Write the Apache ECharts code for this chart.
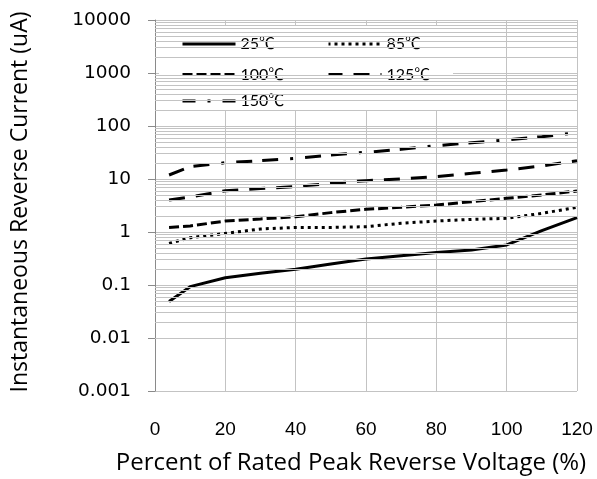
<!DOCTYPE html>
<html>
<head>
<meta charset="utf-8">
<script src="https://cdn.jsdelivr.net/npm/echarts@6/dist/echarts.min.js"></script>
<style>
  html, body { margin: 0; padding: 0; background: #fff; }
  #chart { width: 597px; height: 479px; }
</style>
</head>
<body>
<div id="chart"></div>
<script>
// ---- data ----
const xPercent = [4, 10, 20, 30, 40, 50, 60, 70, 80, 90, 100, 110, 120];
const seriesNames = ['25℃', '85℃', '100℃', '125℃', '150℃'];
const current25 = [0.049, 0.093, 0.137, 0.166, 0.198, 0.249, 0.31, 0.357, 0.41, 0.457, 0.569, 1.06, 1.86];
const current85 = [0.61, 0.78, 0.94, 1.14, 1.22, 1.22, 1.26, 1.46, 1.61, 1.73, 1.81, 2.25, 2.92];
const current100 = [1.22, 1.30, 1.61, 1.76, 1.94, 2.32, 2.68, 2.92, 3.23, 3.73, 4.32, 4.99, 5.94];
const current125 = [4.0, 4.6, 6.0, 6.6, 7.2, 8.3, 9.3, 10.0, 11.1, 12.8, 14.8, 17.6, 22.2];
const current150 = [11.9, 17.1, 20.3, 22.2, 24.6, 28.4, 31.9, 36.3, 42.5, 48.5, 54.4, 62.9, 74.8];
const xTickLabels = ['0', '20', '40', '60', '80', '100', '120'];
const yTickLabels = ['0.001', '0.01', '0.1', '1', '10', '100', '1000', '10000'];
const decades = [0.001, 0.01, 0.1, 1, 10, 100, 1000];
const minorMultipliers = [2, 3, 4, 5, 6, 7, 8, 9];

const minorGridValues = [];
decades.forEach(d => minorMultipliers.forEach(m => minorGridValues.push(+(d * m).toPrecision(3))));

const pairs = vals => xPercent.map((x, i) => [x, vals[i]]);
const gridColor = '#c3c3c3';
const lineCommon = {
  type: 'line', symbol: 'none', showSymbol: false, animation: false, z: 2, silent: true,
  itemStyle: { color: '#000' }, emphasis: { disabled: true }
};

const chart = echarts.init(document.getElementById('chart'), null, { renderer: 'canvas' });
const legendText = { fontFamily: "Lato, 'Noto Sans CJK SC', sans-serif", fontSize: 16, color: '#000' };
const legendCommon = {
  orient: 'vertical', itemWidth: 53, itemHeight: 14, itemGap: 14.5, padding: 0,
  textStyle: legendText, selectedMode: false, z: 5,
  itemStyle: { opacity: 0 },
  lineStyle: { width: 3, cap: 'butt' }
};

chart.setOption({
  backgroundColor: '#fff',
  animation: false,
  grid: { left: 155, right: 20, top: 20, bottom: 88 },
  xAxis: {
    type: 'value', min: 0, max: 120, interval: 20,
    axisLine: { show: false },
    axisTick: { show: false },
    axisLabel: {
      margin: 29, color: '#000', fontFamily: 'Liberation Sans', fontSize: 19,
      formatter: v => xTickLabels[Math.round(v / 20)]
    },
    splitLine: { show: true, lineStyle: { color: gridColor, width: 1 } }
  },
  yAxis: {
    type: 'log', logBase: 10, min: 0.001, max: 10000,
    axisLine: { show: true, lineStyle: { color: '#8a8a8a', width: 1 } },
    axisTick: { show: true, inside: false, length: 7, lineStyle: { color: '#8a8a8a' } },
    axisLabel: {
      margin: 24, color: '#000', fontFamily: 'DejaVu Sans', fontSize: 18.5,
      formatter: v => yTickLabels[Math.round(Math.log10(v)) + 3]
    },
    splitLine: { show: true, lineStyle: { color: gridColor, width: 1 } }
  },
  legend: [
    Object.assign({}, legendCommon, { data: ['25℃', '100℃'], left: 181, top: 36 }),
    Object.assign({}, legendCommon, { data: ['150℃'], left: 181, top: 93, lineStyle: { width: 3, cap: 'butt', dashOffset: 29 } }),
    Object.assign({}, legendCommon, { data: ['85℃', '125℃'], left: 327, top: 36 })
  ],
  graphic: [
    { type: 'rect', left: 159, top: 25, z: 3, shape: { width: 294, height: 85 }, style: { fill: '#fff' } },
    {
      type: 'text', x: 20, y: 202, rotation: Math.PI / 2, z: 5,
      style: { text: 'Instantaneous Reverse Current (uA)', font: "23px 'Open Sans'", fill: '#000', align: 'center', verticalAlign: 'middle' }
    },
    {
      type: 'text', x: 351, y: 463, z: 5,
      style: { text: 'Percent of Rated Peak Reverse Voltage (%)', font: "24px 'Open Sans'", fill: '#000', align: 'center', verticalAlign: 'middle' }
    }
  ],
  series: [
    {
      name: 'minorGrid', type: 'line', data: [], symbol: 'none', z: 1, silent: true, animation: false,
      markLine: {
        silent: true, symbol: 'none', animation: false, label: { show: false },
        lineStyle: { color: gridColor, width: 1, type: 'solid' },
        data: minorGridValues.map(v => ({ yAxis: v }))
      }
    },
    Object.assign({}, lineCommon, { name: seriesNames[0], data: pairs(current25), lineStyle: { color: '#000', width: 3, type: 'solid' } }),
    Object.assign({}, lineCommon, { name: seriesNames[1], data: pairs(current85), lineStyle: { color: '#000', width: 3, type: [3, 4], cap: 'butt' } }),
    Object.assign({}, lineCommon, { name: seriesNames[2], data: pairs(current100), lineStyle: { color: '#000', width: 3, type: [10, 4], cap: 'butt' } }),
    Object.assign({}, lineCommon, { name: seriesNames[3], data: pairs(current125), lineStyle: { color: '#000', width: 3, type: [16, 11], cap: 'butt' } }),
    Object.assign({}, lineCommon, { name: seriesNames[4], data: pairs(current150), lineStyle: { color: '#000', width: 3, type: [16, 10, 16, 12, 3, 12], cap: 'butt' } })
  ]
});
</script>
</body>
</html>
